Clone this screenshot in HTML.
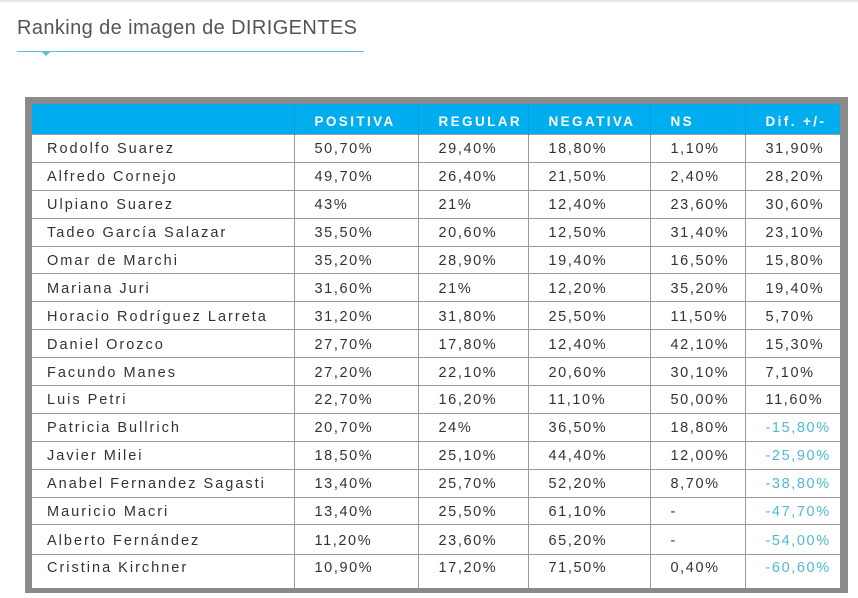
<!DOCTYPE html>
<html><head><meta charset="utf-8"><style>
body{margin:0;width:858px;height:598px;background:#fff;position:relative;overflow:hidden;font-family:"Liberation Sans",sans-serif}
.topline{position:absolute;left:0;top:0;width:858px;height:3px;background:linear-gradient(#ddd,#fff)}
.title{position:absolute;left:17px;top:17px;font-size:20px;color:#555;letter-spacing:0.4px}
.uline{position:absolute;left:17px;top:51px;width:347px;height:1px;background:#5bc0de}
.tri{position:absolute;left:42px;top:52px;width:0;height:0;border-left:4px solid transparent;border-right:4px solid transparent;border-top:4px solid #5bc0de}
.frame{position:absolute;left:25px;top:97px;width:823px;height:496px;background:#8a8a8c}
table{position:absolute;left:32px;top:104px;width:808px;border-collapse:collapse;background:#fff;table-layout:fixed}
th{background:#00aeef;color:#fff;font-size:13.5px;letter-spacing:2.4px;text-align:left;padding:4px 0 0 20px;height:26px;font-weight:bold;border-left:1px solid #0b9fd6}
th:first-child{border-left:none}
td{padding:2px 0 0 20px;font-size:14.5px;color:#333;letter-spacing:1.6px;border:1px solid #9a9a9a;white-space:nowrap;height:24.9px}
td:first-child{padding-left:15px;border-left:none;letter-spacing:2px}
td:last-child{border-right:none}
tr:last-child td{border-bottom:none;vertical-align:top;padding-top:5px;height:28px}
tr.a td{height:27px}
td.n{color:#4fb8d8}
</style></head><body>
<div class="topline"></div>
<div class="title">Ranking de imagen de DIRIGENTES</div>
<div class="uline"></div><div class="tri"></div>
<div class="frame"></div>
<table>
<colgroup><col style="width:262px"><col style="width:124px"><col style="width:110px"><col style="width:122px"><col style="width:95px"><col style="width:95px"></colgroup>
<tr><th></th><th>POSITIVA</th><th>REGULAR</th><th>NEGATIVA</th><th>NS</th><th>Dif. +/-</th></tr>
<tr><td>Rodolfo Suarez</td><td>50,70%</td><td>29,40%</td><td>18,80%</td><td>1,10%</td><td>31,90%</td></tr>
<tr><td>Alfredo Cornejo</td><td>49,70%</td><td>26,40%</td><td>21,50%</td><td>2,40%</td><td>28,20%</td></tr>
<tr><td>Ulpiano Suarez</td><td>43%</td><td>21%</td><td>12,40%</td><td>23,60%</td><td>30,60%</td></tr>
<tr><td>Tadeo García Salazar</td><td>35,50%</td><td>20,60%</td><td>12,50%</td><td>31,40%</td><td>23,10%</td></tr>
<tr><td>Omar de Marchi</td><td>35,20%</td><td>28,90%</td><td>19,40%</td><td>16,50%</td><td>15,80%</td></tr>
<tr><td>Mariana Juri</td><td>31,60%</td><td>21%</td><td>12,20%</td><td>35,20%</td><td>19,40%</td></tr>
<tr><td>Horacio Rodríguez Larreta</td><td>31,20%</td><td>31,80%</td><td>25,50%</td><td>11,50%</td><td>5,70%</td></tr>
<tr><td>Daniel Orozco</td><td>27,70%</td><td>17,80%</td><td>12,40%</td><td>42,10%</td><td>15,30%</td></tr>
<tr><td>Facundo Manes</td><td>27,20%</td><td>22,10%</td><td>20,60%</td><td>30,10%</td><td>7,10%</td></tr>
<tr><td>Luis Petri</td><td>22,70%</td><td>16,20%</td><td>11,10%</td><td>50,00%</td><td>11,60%</td></tr>
<tr><td>Patricia Bullrich</td><td>20,70%</td><td>24%</td><td>36,50%</td><td>18,80%</td><td class="n">-15,80%</td></tr>
<tr><td>Javier Milei</td><td>18,50%</td><td>25,10%</td><td>44,40%</td><td>12,00%</td><td class="n">-25,90%</td></tr>
<tr><td>Anabel Fernandez Sagasti</td><td>13,40%</td><td>25,70%</td><td>52,20%</td><td>8,70%</td><td class="n">-38,80%</td></tr>
<tr><td>Mauricio Macri</td><td>13,40%</td><td>25,50%</td><td>61,10%</td><td>-</td><td class="n">-47,70%</td></tr>
<tr class="a"><td>Alberto Fernández</td><td>11,20%</td><td>23,60%</td><td>65,20%</td><td>-</td><td class="n">-54,00%</td></tr>
<tr><td>Cristina Kirchner</td><td>10,90%</td><td>17,20%</td><td>71,50%</td><td>0,40%</td><td class="n">-60,60%</td></tr>
</table>
</body></html>
